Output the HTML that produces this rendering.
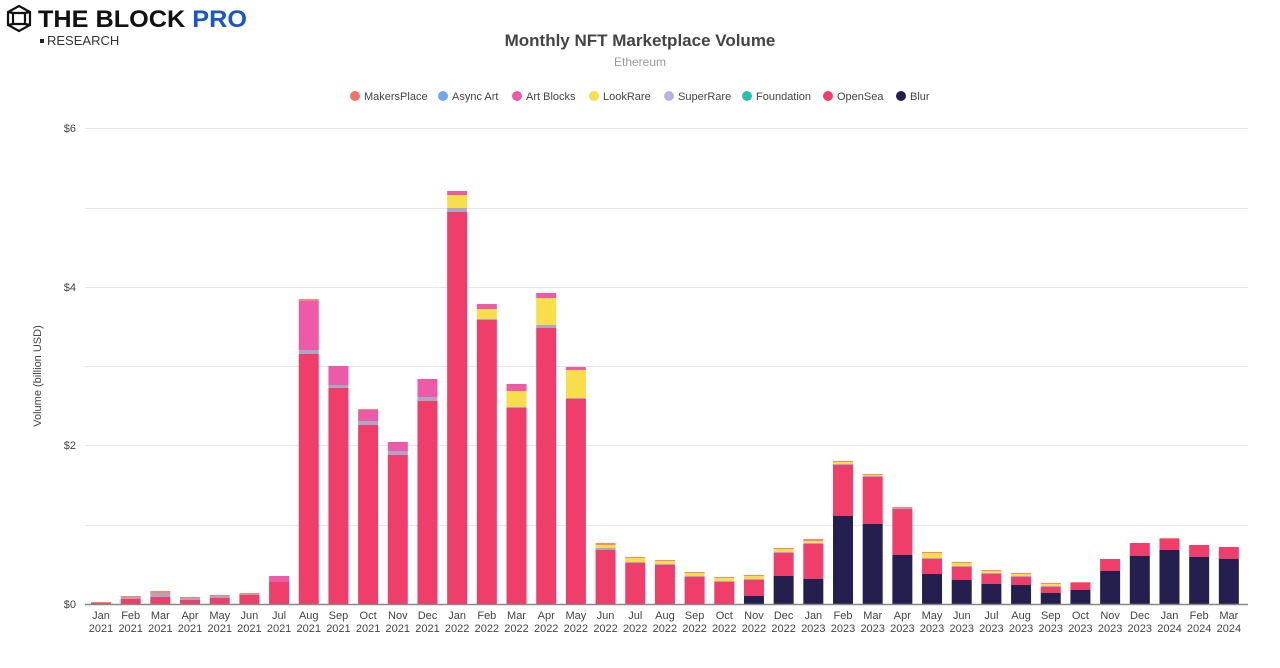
<!DOCTYPE html><html><head><meta charset="utf-8"><style>body{margin:0;background:#fff;font-family:"Liberation Sans",sans-serif}</style></head><body>
<svg width="1280" height="663" xmlns="http://www.w3.org/2000/svg" font-family="Liberation Sans, sans-serif">
<g stroke="#111" stroke-width="2.2" fill="none"><path d="M19 6 L30 12 L30 25 L19 31 L8 25 L8 12 Z"/><path d="M13 13 H25 V24 H13 Z"/><path d="M8 12 L13 13 M30 12 L25 13 M30 25 L25 24 M8 25 L13 24"/></g>
<text x="38" y="27" font-size="24" font-weight="bold" fill="#111" textLength="209" lengthAdjust="spacingAndGlyphs">THE BLOCK <tspan fill="#1a55c9">PRO</tspan></text>
<rect x="40" y="39" width="4" height="4" fill="#222"/>
<text x="47" y="45" font-size="13" fill="#333">RESEARCH</text>
<text x="640" y="46" font-size="17" font-weight="bold" fill="#444" text-anchor="middle">Monthly NFT Marketplace Volume</text>
<text x="640" y="66" font-size="12" fill="#999" text-anchor="middle">Ethereum</text>
<g font-size="11" fill="#444" id="leg"></g>
<g stroke="#e6e6e6"><line x1="85" x2="1248" y1="128.5" y2="128.5"/><line x1="85" x2="1248" y1="208.5" y2="208.5"/><line x1="85" x2="1248" y1="287.5" y2="287.5"/><line x1="85" x2="1248" y1="366.5" y2="366.5"/><line x1="85" x2="1248" y1="445.5" y2="445.5"/><line x1="85" x2="1248" y1="525.5" y2="525.5"/></g>
<g font-size="11" fill="#444" text-anchor="end"><text x="76" y="132">$6</text><text x="76" y="291">$4</text><text x="76" y="449">$2</text><text x="76" y="608">$0</text></g>
<text transform="translate(41,376) rotate(-90)" font-size="11" fill="#444" text-anchor="middle">Volume (billion USD)</text>
<g id="bars"></g>
<line x1="85" x2="1248" y1="604.5" y2="604.5" stroke="#888" stroke-width="1.5"/>
<g id="lab" font-size="11" fill="#444" text-anchor="middle"></g>
</svg>
<script>
var C={b:"#241f4f",o:"#f03e6a",g:"#a8a8c4",l:"#f9de4b",a:"#ec5aa8",m:"#f08a70"};
var D=[[604,603,603,603,603,602],[604,599,597,597,597,596],[604,597,593,593,593,591],[604,600,598,598,598,597],[604,598,596,596,596,595],[604,595,594,594,594,593],[604,582,582,582,576,576],[604,354,350,350,301,299],[604,388,385,385,366,366],[604,425,421,421,410,409],[604,455,451,451,442,442],[604,401,397,397,379,379],[604,212,208,195,191,191],[604,320,319,309,304,304],[604,408,407,391,384,384],[604,328,325,298,293,293],[604,399,398,370,367,367],[604,550,548,545,545,543],[604,563,562,558,558,557],[604,565,564,561,561,560],[604,577,576,573,573,572],[604,582,581,578,578,577],[596,580,579,576,576,575],[576,553,552,549,549,548],[579,544,543,541,541,539],[516,465,464,462,462,461],[524,477,476,475,475,474],[555,509,508,508,508,507],[574,559,558,553,553,552],[580,567,566,563,563,562],[584,574,573,571,571,570],[585,577,576,574,574,573],[593,587,586,584,584,583],[590,583,583,583,583,582],[571,559,559,559,559,559],[556,543,543,543,543,543],[550,539,539,539,539,538],[557,545,545,545,545,545],[559,547,547,547,547,547]];
var M=["Jan","Feb","Mar","Apr","May","Jun","Jul","Aug","Sep","Oct","Nov","Dec"];
var s="",t="";
D.forEach(function(d,i){var x=101+i*29.68-10,prev=604,keys="bogla".split("");
for(var k=0;k<5;k++){var y=d[k];if(y<prev){s+='<rect x="'+x+'" y="'+y+'" width="20" height="'+(prev-y)+'" fill="'+C[keys[k]]+'"/>';prev=y;}}
if(d[5]<prev)s+='<rect x="'+x+'" y="'+d[5]+'" width="20" height="'+(prev-d[5])+'" fill="'+C.m+'"/>';
var cx=101+i*29.68;t+='<text x="'+cx+'" y="619">'+M[i%12]+'</text><text x="'+cx+'" y="632">'+(2021+Math.floor(i/12))+'</text>';});
document.getElementById("bars").innerHTML=s;document.getElementById("lab").innerHTML=t;
var L=[["MakersPlace","#f07469",350],["Async Art","#6fa8ef",438],["Art Blocks","#ec5aa8",512],["LookRare","#f9de4b",589],["SuperRare","#b9b1e0",664],["Foundation","#2bbfb0",742],["OpenSea","#f03e6a",823],["Blur","#241f4f",896]];
var g="";L.forEach(function(l){g+='<circle cx="'+(l[2]+5)+'" cy="96" r="5" fill="'+l[1]+'"/><text x="'+(l[2]+14)+'" y="100">'+l[0]+'</text>';});
document.getElementById("leg").innerHTML=g;
</script>
</body></html>
